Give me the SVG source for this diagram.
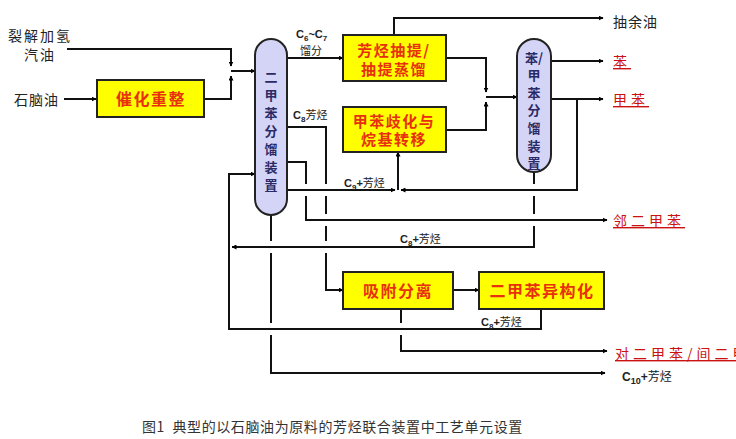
<svg xmlns="http://www.w3.org/2000/svg" width="736" height="439" viewBox="0 0 736 439">
<defs>
<marker id="ah" viewBox="0 0 10 10" refX="9" refY="5" markerWidth="5" markerHeight="5" orient="auto" markerUnits="userSpaceOnUse">
<path d="M0,0 L10,5 L0,10 z" fill="#000"/>
</marker>
</defs>
<style>
.ln{fill:none;stroke:#111;stroke-width:2}
.box{fill:#ffff00;stroke:#222;stroke-width:2}
.col{fill:#d4d4f7;stroke:#222;stroke-width:2}
.bt{font-family:"Noto Sans CJK SC",sans-serif;font-size:16px;font-weight:bold;fill:#e8300e;text-anchor:middle;letter-spacing:1.5px}
.ct{font-family:"Noto Sans CJK SC",sans-serif;font-size:13px;font-weight:bold;fill:#2a2a66;text-anchor:middle}
.lb{font-family:"Noto Sans CJK SC",sans-serif;font-size:14px;fill:#222}
.sm{font-family:"Liberation Sans","Noto Sans CJK SC",sans-serif;font-size:11px;font-weight:bold;fill:#222}
.rd{font-family:"Noto Sans CJK SC",sans-serif;font-size:14px;fill:#cc1111;text-decoration:underline;letter-spacing:4px}
.cap{font-family:"Noto Sans CJK SC",sans-serif;font-size:14px;fill:#333;letter-spacing:0.6px}
</style>
<rect width="736" height="439" fill="#fff"/>
<g id="connectors">
<path class="ln" d="M67,49 H231 V66" marker-end="url(#ah)"/>
<path class="ln" d="M64,99 H96" marker-end="url(#ah)"/>
<path class="ln" d="M204,99 H231 V76" marker-end="url(#ah)"/>
<path class="ln" d="M231,71 H255" marker-end="url(#ah)"/>
<path class="ln" d="M287,58 H343" marker-end="url(#ah)"/>
<path class="ln" d="M394,35 V18 H603" marker-end="url(#ah)"/>
<path class="ln" d="M446,58 H486 V92" marker-end="url(#ah)"/>
<path class="ln" d="M446,130 H486 V102" marker-end="url(#ah)"/>
<path class="ln" d="M486,97 H517" marker-end="url(#ah)"/>
<path class="ln" d="M551,61 H603" marker-end="url(#ah)"/>
<path class="ln" d="M551,99 H603" marker-end="url(#ah)"/>
<path class="ln" d="M577,99 V190 H401" marker-end="url(#ah)"/>
<path class="ln" d="M287,190 H395" marker-end="url(#ah)"/>
<path class="ln" d="M398,190 V152" marker-end="url(#ah)"/>
<path class="ln" d="M287,127 H326 V184 M326,196 V214 M326,226 V241 M326,253 V290 H343" marker-end="url(#ah)"/>
<path class="ln" d="M287,162 H306 V184 M306,196 V220 H607" marker-end="url(#ah)"/>
<path class="ln" d="M534,172 V184 M534,196 V214 M534,226 V247 H232" marker-end="url(#ah)"/>
<path class="ln" d="M541,309 V329 H229 V174 H255" marker-end="url(#ah)"/>
<path class="ln" d="M271,215 V241 M271,253 V323 M271,335 V373 H605" marker-end="url(#ah)"/>
<path class="ln" d="M453,290 H479" marker-end="url(#ah)"/>
<path class="ln" d="M401,309 V323 M401,335 V351 H607" marker-end="url(#ah)"/>
</g>
<g id="feed-cracked">
<text class="lb" x="8" y="41" letter-spacing="2">裂解加氢</text>
<text class="lb" x="24" y="60" letter-spacing="2">汽油</text>
</g>
<g id="feed-naphtha"><text class="lb" x="14" y="105" letter-spacing="1">石脑油</text></g>
<g id="reforming">
<rect class="box" x="97" y="80" width="107" height="37"/>
<text class="bt" x="151" y="105">催化重整</text>
</g>
<g id="xylene-column">
<rect class="col" x="255" y="39" width="32" height="176" rx="16"/>
<text class="ct" x="271" y="82">二</text>
<text class="ct" x="271" y="100">甲</text>
<text class="ct" x="271" y="118">苯</text>
<text class="ct" x="271" y="136">分</text>
<text class="ct" x="271" y="154">馏</text>
<text class="ct" x="271" y="172">装</text>
<text class="ct" x="271" y="190">置</text>
</g>
<g id="extraction">
<rect class="box" x="343" y="35" width="103" height="46"/>
<text class="bt" x="394" y="56" style="font-size:15px">芳烃抽提/</text>
<text class="bt" x="394" y="75" style="font-size:15px">抽提蒸馏</text>
</g>
<g id="disproportionation">
<rect class="box" x="343" y="107" width="103" height="45"/>
<text class="bt" x="394" y="127" style="font-size:15px">甲苯歧化与</text>
<text class="bt" x="394" y="145" style="font-size:15px">烷基转移</text>
</g>
<g id="bt-column">
<rect class="col" x="517" y="39" width="34" height="133" rx="17"/>
<text class="ct" x="534" y="63">苯/</text>
<text class="ct" x="534" y="80">甲</text>
<text class="ct" x="534" y="98">苯</text>
<text class="ct" x="534" y="115">分</text>
<text class="ct" x="534" y="133">馏</text>
<text class="ct" x="534" y="151">装</text>
<text class="ct" x="534" y="168">置</text>
</g>
<g id="adsorption">
<rect class="box" x="343" y="272" width="110" height="37"/>
<text class="bt" x="398" y="297">吸附分离</text>
</g>
<g id="isomerization">
<rect class="box" x="479" y="272" width="125" height="37"/>
<text class="bt" x="542" y="297">二甲苯异构化</text>
</g>
<g id="labels">
<text class="sm" x="296" y="38">C<tspan font-size="8" dy="3">6</tspan><tspan dy="-3">~C</tspan><tspan font-size="8" dy="3">7</tspan></text>
<text class="lb" x="300" y="55" style="font-size:11px">馏分</text>
<text class="sm" x="293" y="119">C<tspan font-size="8" dy="3">8</tspan><tspan dy="-3" font-weight="normal">芳烃</tspan></text>
<text class="sm" x="344" y="187">C<tspan font-size="8" dy="3">9</tspan><tspan dy="-3">+</tspan><tspan font-weight="normal">芳烃</tspan></text>
<text class="sm" x="400" y="243">C<tspan font-size="8" dy="3">8</tspan><tspan dy="-3">+</tspan><tspan font-weight="normal">芳烃</tspan></text>
<text class="sm" x="481" y="326">C<tspan font-size="8" dy="3">8</tspan><tspan dy="-3">+</tspan><tspan font-weight="normal">芳烃</tspan></text>
<text class="sm" x="622" y="381" style="font-size:12px">C<tspan font-size="9" dy="3">10</tspan><tspan dy="-3">+</tspan><tspan font-weight="normal">芳烃</tspan></text>
<text class="lb" x="613" y="27" letter-spacing="1">抽余油</text>
<text class="rd" x="613" y="67">苯</text>
<text class="rd" x="613" y="105">甲苯</text>
<text class="rd" x="613" y="226">邻二甲苯</text>
<text class="rd" x="615" y="359">对二甲苯/间二甲苯</text>
</g>
<text class="cap" x="142" y="432" xml:space="preserve">图1  典型的以石脑油为原料的芳烃联合装置中工艺单元设置</text>
</svg>
